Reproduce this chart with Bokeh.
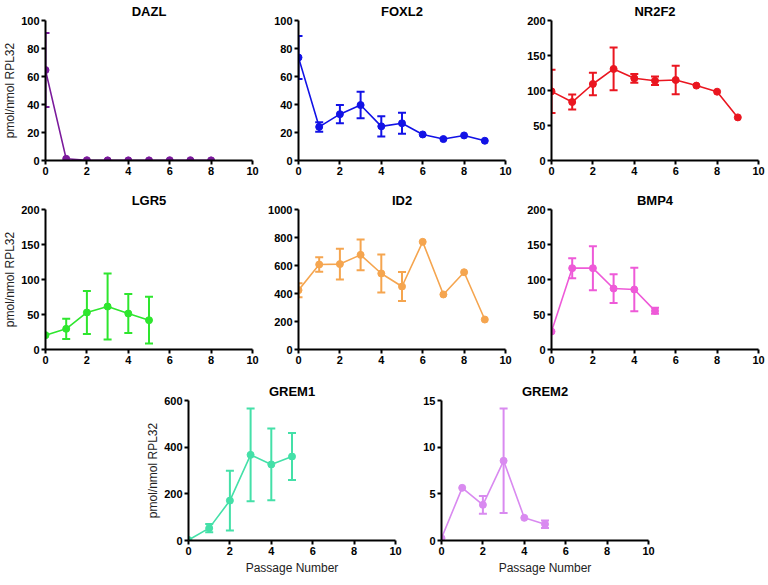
from bokeh.plotting import figure
from bokeh.models import Whisker, TeeHead, ColumnDataSource, FixedTicker, Range1d, Spacer
from bokeh.layouts import row, column
from bokeh.embed import file_html
from bokeh.resources import INLINE

# ---- data ----
x_ticks = [0, 2, 4, 6, 8, 10]

dazl_x = [0, 1, 2, 3, 4, 5, 6, 7, 8]
dazl_mean = [64.6, 1.2, 0.2, 0.1, 0.1, 0.1, 0.2, 0.2, 0.1]
dazl_sem = [26.4, 0, 0, 0, 0, 0, 0, 0, 0]

foxl2_x = [0, 1, 2, 3, 4, 5, 6, 7, 8, 9]
foxl2_mean = [73.6, 24.0, 33.1, 39.6, 24.4, 26.6, 18.6, 15.3, 17.9, 14.1]
foxl2_sem = [15.3, 3.4, 6.5, 9.5, 7.2, 7.5, 0, 0, 0, 0]

nr2f2_x = [0, 1, 2, 3, 4, 5, 6, 7, 8, 9]
nr2f2_mean = [98.8, 83.5, 109.3, 130.8, 117.4, 114.0, 115.0, 107.0, 98.3, 61.6]
nr2f2_sem = [31.0, 10.7, 16.2, 30.5, 6.2, 6.0, 20.2, 0, 0, 0]

lgr5_x = [0, 1, 2, 3, 4, 5]
lgr5_mean = [20.5, 29.5, 52.9, 61.4, 51.4, 41.9]
lgr5_sem = [0, 14.5, 30.7, 47.0, 28.0, 33.5]

id2_x = [0, 1, 2, 3, 4, 5, 6, 7, 8, 9]
id2_mean = [424, 607, 610, 676, 543, 450, 769, 393, 552, 214]
id2_sem = [50, 52, 110, 110, 136, 103, 0, 0, 0, 0]

bmp4_x = [0, 1, 2, 3, 4, 5]
bmp4_mean = [25.7, 116.2, 116.2, 87.1, 85.7, 55.2]
bmp4_sem = [0, 14.3, 31.4, 20.5, 31.2, 4.3]

grem1_x = [0, 1, 2, 3, 4, 5]
grem1_mean = [2, 53, 171, 367, 326, 360]
grem1_sem = [0, 18, 128, 199, 154, 101]

grem2_x = [0, 1, 2, 3, 4, 5]
grem2_mean = [0.25, 5.64, 3.82, 8.54, 2.43, 1.75]
grem2_sem = [0, 0, 0.95, 5.6, 0, 0.4]

FONT = "Liberation Sans"
FW, FH = 207, 140


def make_panel(name, color, xs, mean, sem, ymax, ystep, ylabel, xlabel,
               left, right, top):
    p = figure(frame_width=FW, frame_height=FH, output_backend="svg",
               toolbar_location=None, x_range=Range1d(0, 10),
               y_range=Range1d(0, ymax),
               min_border_left=left, min_border_right=right,
               min_border_top=top, min_border_bottom=0,
               background_fill_color="white", border_fill_color="white")
    p.title.text = name
    p.title.align = "center"
    p.title.text_font = FONT
    p.title.text_font_size = "13px"
    p.title.text_font_style = "bold"
    p.title.text_color = "black"
    p.title.standoff = 3
    p.outline_line_color = None
    p.xgrid.visible = False
    p.ygrid.visible = False
    p.xaxis.ticker = FixedTicker(ticks=x_ticks)
    p.yaxis.ticker = FixedTicker(ticks=list(range(0, ymax + 1, ystep)))
    for ax in (p.xaxis[0], p.yaxis[0]):
        ax.axis_line_width = 2
        ax.axis_line_color = "black"
        ax.major_tick_line_width = 2
        ax.major_tick_line_color = "black"
        ax.major_tick_out = 4
        ax.major_tick_in = 0
        ax.minor_tick_out = 0
        ax.minor_tick_in = 0
        ax.major_label_text_font = FONT
        ax.major_label_text_font_style = "bold"
        ax.major_label_text_font_size = "11px"
        ax.major_label_text_color = "black"
        ax.major_label_standoff = 2
        ax.axis_label_text_font = FONT
        ax.axis_label_text_font_style = "normal"
        ax.axis_label_text_font_size = "12px"
        ax.axis_label_text_color = "#222222"
        ax.axis_label_standoff = 1
    if ylabel:
        p.yaxis.axis_label = ylabel
    if xlabel:
        p.xaxis.axis_label = xlabel
        p.xaxis.axis_label_standoff = 3

    src = ColumnDataSource(dict(x=xs, y=mean))
    p.line("x", "y", source=src, line_color=color, line_width=1.6)

    ex = [x for x, s in zip(xs, sem) if s > 0]
    eu = [m + s for m, s in zip(mean, sem) if s > 0]
    el = [m - s for m, s in zip(mean, sem) if s > 0]
    esrc = ColumnDataSource(dict(x=ex, upper=eu, lower=el))
    w = Whisker(base="x", upper="upper", lower="lower", source=esrc,
                line_color=color, line_width=2,
                upper_head=TeeHead(size=8, line_color=color, line_width=2),
                lower_head=TeeHead(size=8, line_color=color, line_width=2))
    p.add_layout(w)
    p.scatter("x", "y", source=src, size=7, fill_color=color,
              line_color=color)
    return p


YL = "pmol/nmol RPL32"
XL = "Passage Number"

f1 = make_panel("DAZL", "#7B1A9C", dazl_x, dazl_mean, dazl_sem, 100, 20, YL, None, 36, 10, 0)
f2 = make_panel("FOXL2", "#1212E6", foxl2_x, foxl2_mean, foxl2_sem, 100, 20, None, None, 36, 10, 0)
f3 = make_panel("NR2F2", "#EA1620", nr2f2_x, nr2f2_mean, nr2f2_sem, 200, 50, None, None, 36, 8, 0)

f4 = make_panel("LGR5", "#2EE62E", lgr5_x, lgr5_mean, lgr5_sem, 200, 50, YL, None, 36, 10, 32)
f5 = make_panel("ID2", "#F5A54F", id2_x, id2_mean, id2_sem, 1000, 200, None, None, 36, 10, 32)
f6 = make_panel("BMP4", "#EE5AD8", bmp4_x, bmp4_mean, bmp4_sem, 200, 50, None, None, 36, 8, 32)

f7 = make_panel("GREM1", "#44E0A8", grem1_x, grem1_mean, grem1_sem, 600, 200, YL, XL, 36, 10, 34)
f8 = make_panel("GREM2", "#D98AF0", grem2_x, grem2_mean, grem2_sem, 15, 5, None, XL, 36, 8, 34)

layout = column(row(f1, f2, f3), row(f4, f5, f6),
                row(Spacer(width=143), f7, f8))

open("out.html", "w").write(file_html(layout, INLINE))
